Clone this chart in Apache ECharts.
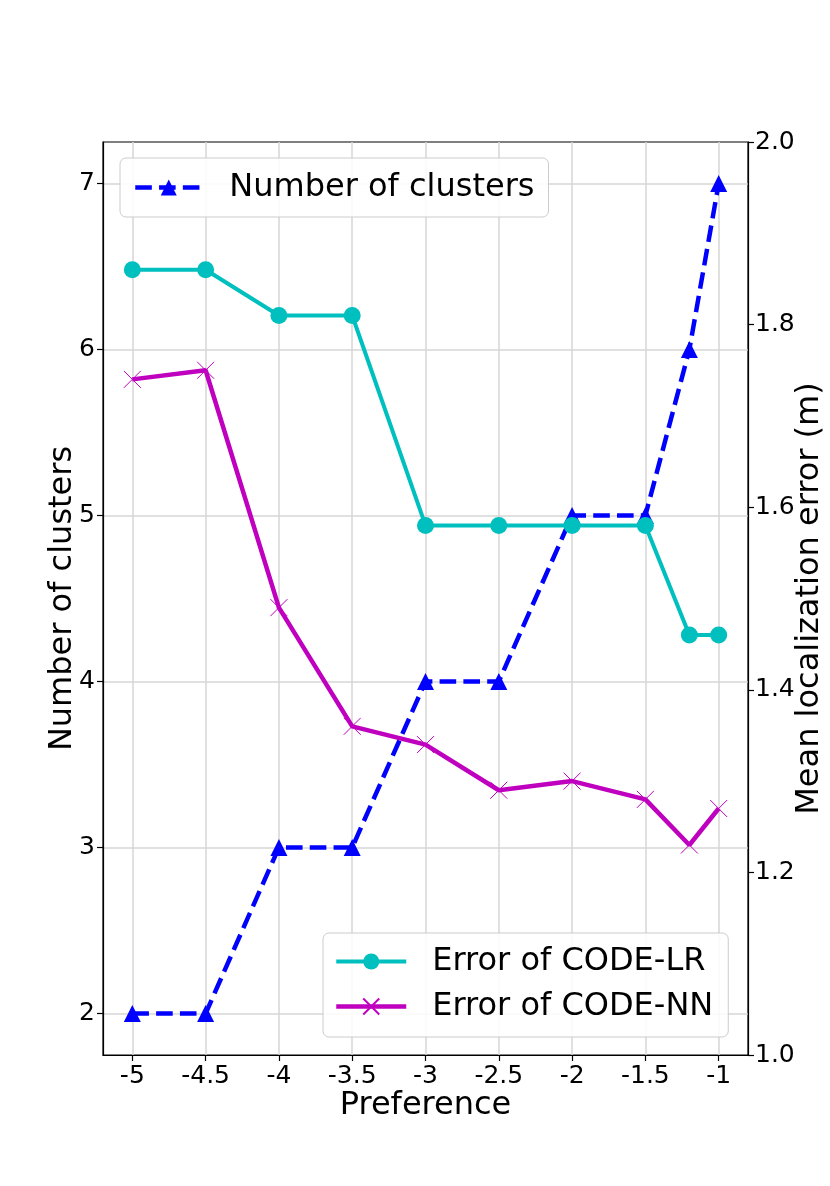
<!DOCTYPE html>
<html lang="en">
<head>
    <meta charset="UTF-8">
    <title>Preference vs clusters</title>
    <script src="https://cdn.jsdelivr.net/npm/echarts@6/dist/echarts.min.js"></script>
    <style>
        html, body { margin: 0; padding: 0; background: #fff; }
    </style>
</head>
<body>
<div id="main" style="width:830px;height:1186px;"></div>
<script>
    // data
    var preference = [-5, -4.5, -4, -3.5, -3, -2.5, -2, -1.5, -1.2, -1];
    var clusters = [2, 2, 3, 3, 4, 4, 5, 5, 6, 7];
    var errLR = [1.86, 1.86, 1.81, 1.81, 1.58, 1.58, 1.58, 1.58, 1.46, 1.46];
    var errNN = [1.74, 1.75, 1.49, 1.36, 1.34, 1.29, 1.30, 1.28, 1.23, 1.27];

    var xTicks = [-5, -4.5, -4, -3.5, -3, -2.5, -2, -1.5, -1];
    var leftTicks = [2, 3, 4, 5, 6, 7];

    function pairs(ys) {
        var out = [];
        for (var i = 0; i < preference.length; i++) {
            out.push([preference[i], ys[i]]);
        }
        return out;
    }

    var font = 'DejaVu Sans';
    var gridLine = {show: true, lineStyle: {color: '#d6d6d6', width: 1.5}};
    var tick = {show: true, inside: false, length: 6, lineStyle: {color: '#000', width: 1.2}};
    var xMark = 'path://M0,0L10,10M10,0L0,10';
    var legendText = {fontFamily: font, fontSize: 32, color: '#000', lineHeight: 37};

    var chart = echarts.init(document.getElementById('main'));
    var option = {
        animation: false,
        backgroundColor: '#fff',
        textStyle: {fontFamily: font},
        grid: {
            left: 103, right: 82, top: 142, bottom: 131,
            outerBoundsMode: 'none',
            containLabel: false,
            show: true, borderColor: '#000', borderWidth: 1.2,
            backgroundColor: 'transparent'
        },
        legend: [{
            data: [{name: 'Number of clusters', lineStyle: {width: 4.5}}],
            left: 120, top: 158,
            padding: [11, 14, 11, 13],
            itemWidth: 67, itemHeight: 20,
            backgroundColor: 'rgba(255,255,255,0.85)',
            borderColor: '#cccccc', borderWidth: 1, borderRadius: 6,
            textStyle: Object.assign({padding: [0, 0, 0, 22]}, legendText)
        }, {
            data: [
                {name: 'Error of CODE-LR', lineStyle: {width: 4}},
                {name: 'Error of CODE-NN', lineStyle: {width: 4.5}}
            ],
            orient: 'vertical',
            left: 323, top: 933,
            padding: [10, 15, 12, 11],
            itemGap: 8,
            itemWidth: 70, itemHeight: 20,
            backgroundColor: 'rgba(255,255,255,0.85)',
            borderColor: '#cccccc', borderWidth: 1, borderRadius: 6,
            textStyle: Object.assign({padding: [0, 0, 0, 21]}, legendText)
        }],
        xAxis: {
            type: 'value',
            min: -5.2, max: -0.8,
            name: 'Preference',
            nameLocation: 'middle',
            nameGap: 35,
            nameMoveOverlap: false,
            nameTextStyle: {fontFamily: font, fontSize: 32, color: '#000'},
            axisLine: {show: true, onZero: false, lineStyle: {color: '#000', width: 1.2}},
            axisTick: Object.assign({customValues: xTicks}, tick),
            axisLabel: {
                customValues: xTicks,
                fontFamily: font, fontSize: 25, color: '#000', margin: 9,
                formatter: function (v) { return String(v); }
            },
            splitLine: gridLine
        },
        yAxis: [{
            type: 'value',
            position: 'left',
            min: 1.75, max: 7.25,
            name: 'Number of clusters',
            nameLocation: 'middle',
            nameGap: 24,
            nameMoveOverlap: false,
            nameTextStyle: {fontFamily: font, fontSize: 32, color: '#000'},
            axisLine: {show: true, lineStyle: {color: '#000', width: 1.2}},
            axisTick: Object.assign({customValues: leftTicks}, tick),
            axisLabel: {customValues: leftTicks, fontFamily: font, fontSize: 25, color: '#000', margin: 8},
            splitLine: gridLine
        }, {
            type: 'value',
            position: 'right',
            min: 1.0, max: 2.0, interval: 0.2,
            name: 'Mean localization error (m)',
            nameLocation: 'middle',
            nameGap: 46,
            nameMoveOverlap: false,
            nameTextStyle: {fontFamily: font, fontSize: 32, color: '#000'},
            axisLine: {show: true, lineStyle: {color: '#000', width: 1.2}},
            axisTick: tick,
            axisLabel: {
                fontFamily: font, fontSize: 25, color: '#000', margin: 7,
                formatter: function (v) { return v.toFixed(1); }
            },
            splitLine: {show: false}
        }],
        series: [{
            name: 'Number of clusters',
            type: 'line',
            yAxisIndex: 0,
            z: 2,
            data: pairs(clusters),
            symbol: 'triangle',
            symbolSize: 17,
            itemStyle: {color: '#0000ff'},
            lineStyle: {color: '#0000ff', width: 4.5, type: [16.6, 7.2], cap: 'butt'}
        }, {
            name: 'Error of CODE-LR',
            type: 'line',
            yAxisIndex: 1,
            z: 3,
            data: pairs(errLR),
            symbol: 'circle',
            symbolSize: 17,
            itemStyle: {color: '#00bfbf'},
            lineStyle: {color: '#00bfbf', width: 4}
        }, {
            name: 'Error of CODE-NN',
            type: 'line',
            yAxisIndex: 1,
            z: 3,
            data: pairs(errNN),
            symbol: xMark,
            symbolSize: 17,
            itemStyle: {color: '#bf00bf', borderColor: '#bf00bf', borderWidth: 1},
            lineStyle: {color: '#bf00bf', width: 4.5}
        }]
    };
    chart.setOption(option);
</script>
</body>
</html>
